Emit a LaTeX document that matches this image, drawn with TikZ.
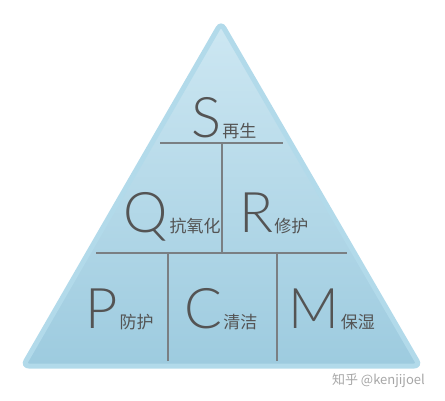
\documentclass[tikz,border=0pt]{standalone}
\usepackage{fontspec}
\setmainfont{Noto Sans CJK SC}
\newfontfamily\thinfont{Lato Light}
\usetikzlibrary{positioning}

\definecolor{ink}{HTML}{545454}
\definecolor{rule}{HTML}{7A7F83}
\definecolor{rim}{HTML}{B2DAEA}
\definecolor{skytop}{HTML}{CDE7F2}
\definecolor{skybot}{HTML}{9DCBDF}

\begin{document}
\begin{tikzpicture}[x=1pt,y=1pt,
    letter/.style={anchor=base,inner sep=0pt,text=ink,font=\thinfont\fontsize{56}{56}\selectfont},
    word/.style={anchor=base west,inner sep=0pt,text=ink,font=\fontsize{17}{17}\selectfont},
    sep/.style={draw=rule,line width=1.4pt}]
    \useasboundingbox (0,0) rectangle (445,400);

    % pyramid
    \coordinate (apex) at (221,377);
    \coordinate (bl) at (23,34);
    \coordinate (br) at (420,34);
    \path[draw=rim,line width=5pt,rounded corners=6pt,top color=skytop,bottom color=skybot]
        (apex) -- (bl) -- (br) -- cycle;

    % dividers
    \coordinate (top_l) at (160,257);  \coordinate (top_r) at (283,257);
    \coordinate (mid_l) at (96,147);   \coordinate (mid_r) at (347,147);
    \coordinate (top_c) at (222,257);  \coordinate (mid_c) at (222,147);
    \coordinate (mid_a) at (168,147);  \coordinate (bot_a) at (168,39);
    \coordinate (mid_b) at (277,147);  \coordinate (bot_b) at (277,39);
    \draw[sep] (top_l) -- (top_r);
    \draw[sep] (mid_l) -- (mid_r);
    \draw[sep] (top_c) -- (mid_c);
    \draw[sep] (mid_a) -- (bot_a);
    \draw[sep] (mid_b) -- (bot_b);

    % labels
    \node [letter] (S) at (206,262) {S};
    \node [word, right=1pt of S.base east, anchor=base west] (S_t) {再生};
    \node [letter] (Q) at (146,168) {Q};
    \node [word, right=1pt of Q.base east, anchor=base west] (Q_t) {抗氧化};
    \node [letter] (R) at (256,168) {R};
    \node [word, right=1pt of R.base east, anchor=base west] (R_t) {修护};
    \node [letter] (P) at (102,72) {P};
    \node [word, right=1pt of P.base east, anchor=base west] (P_t) {防护};
    \node [letter] (C) at (203,72) {C};
    \node [word, right=1pt of C.base east, anchor=base west] (C_t) {清洁};
    \node [letter] (M) at (314,72) {M};
    \node [word, right=1pt of M.base east, anchor=base west] (M_t) {保湿};

    % watermark
    \node [anchor=base east,inner sep=0pt,text=black!35,font=\fontsize{13}{13}\selectfont] (mark) at (425,16) {知乎 @kenjijoel};
\end{tikzpicture}
\end{document}
